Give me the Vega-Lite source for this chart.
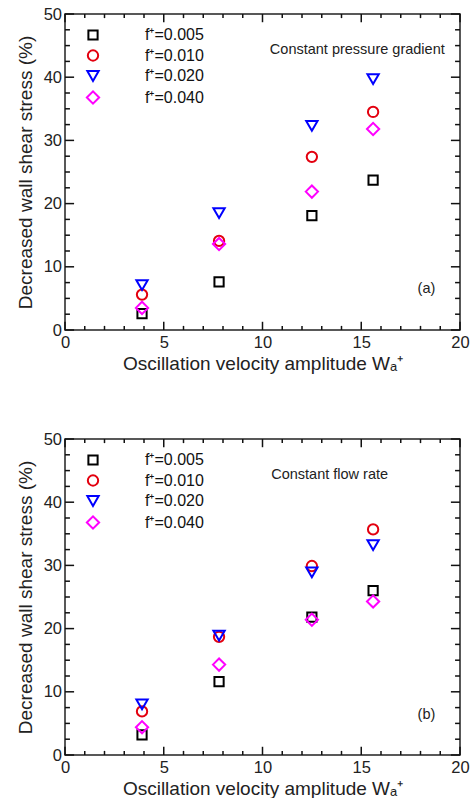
{
  "$schema": "https://vega.github.io/schema/vega-lite/v6.json",
  "padding": {"left": 15, "top": 5, "right": 6, "bottom": 0},
  "datasets": {
    "pts": [
      {"panel": "a", "W": 3.9, "f": "f⁺=0.005", "v": 2.6},
      {"panel": "a", "W": 7.8, "f": "f⁺=0.005", "v": 7.6},
      {"panel": "a", "W": 12.5, "f": "f⁺=0.005", "v": 18.1},
      {"panel": "a", "W": 15.6, "f": "f⁺=0.005", "v": 23.7},
      {"panel": "a", "W": 3.9, "f": "f⁺=0.010", "v": 5.6},
      {"panel": "a", "W": 7.8, "f": "f⁺=0.010", "v": 14.1},
      {"panel": "a", "W": 12.5, "f": "f⁺=0.010", "v": 27.4},
      {"panel": "a", "W": 15.6, "f": "f⁺=0.010", "v": 34.5},
      {"panel": "a", "W": 3.9, "f": "f⁺=0.020", "v": 7.1},
      {"panel": "a", "W": 7.8, "f": "f⁺=0.020", "v": 18.5},
      {"panel": "a", "W": 12.5, "f": "f⁺=0.020", "v": 32.3},
      {"panel": "a", "W": 15.6, "f": "f⁺=0.020", "v": 39.7},
      {"panel": "a", "W": 3.9, "f": "f⁺=0.040", "v": 3.5},
      {"panel": "a", "W": 7.8, "f": "f⁺=0.040", "v": 13.6},
      {"panel": "a", "W": 12.5, "f": "f⁺=0.040", "v": 21.9},
      {"panel": "a", "W": 15.6, "f": "f⁺=0.040", "v": 31.8},
      {"panel": "b", "W": 3.9, "f": "f⁺=0.005", "v": 3.2},
      {"panel": "b", "W": 7.8, "f": "f⁺=0.005", "v": 11.6},
      {"panel": "b", "W": 12.5, "f": "f⁺=0.005", "v": 21.8},
      {"panel": "b", "W": 15.6, "f": "f⁺=0.005", "v": 26.0},
      {"panel": "b", "W": 3.9, "f": "f⁺=0.010", "v": 6.9},
      {"panel": "b", "W": 7.8, "f": "f⁺=0.010", "v": 18.7},
      {"panel": "b", "W": 12.5, "f": "f⁺=0.010", "v": 29.9},
      {"panel": "b", "W": 15.6, "f": "f⁺=0.010", "v": 35.7},
      {"panel": "b", "W": 3.9, "f": "f⁺=0.020", "v": 8.0},
      {"panel": "b", "W": 7.8, "f": "f⁺=0.020", "v": 18.9},
      {"panel": "b", "W": 12.5, "f": "f⁺=0.020", "v": 28.9},
      {"panel": "b", "W": 15.6, "f": "f⁺=0.020", "v": 33.2},
      {"panel": "b", "W": 3.9, "f": "f⁺=0.040", "v": 4.4},
      {"panel": "b", "W": 7.8, "f": "f⁺=0.040", "v": 14.3},
      {"panel": "b", "W": 12.5, "f": "f⁺=0.040", "v": 21.4},
      {"panel": "b", "W": 15.6, "f": "f⁺=0.040", "v": 24.3}
    ],
    "notes": [
      {"panel": "a", "W": 14.8, "v": 44.3, "label": "Constant pressure gradient"},
      {"panel": "a", "W": 18.3, "v": 6.5, "label": "(a)"},
      {"panel": "b", "W": 13.4, "v": 44.3, "label": "Constant flow rate"},
      {"panel": "b", "W": 18.3, "v": 6.4, "label": "(b)"}
    ],
    "xt": [
      {"t": 0, "m": 1}, {"t": 1, "m": 0}, {"t": 2, "m": 0}, {"t": 3, "m": 0}, {"t": 4, "m": 0},
      {"t": 5, "m": 1}, {"t": 6, "m": 0}, {"t": 7, "m": 0}, {"t": 8, "m": 0}, {"t": 9, "m": 0},
      {"t": 10, "m": 1}, {"t": 11, "m": 0}, {"t": 12, "m": 0}, {"t": 13, "m": 0}, {"t": 14, "m": 0},
      {"t": 15, "m": 1}, {"t": 16, "m": 0}, {"t": 17, "m": 0}, {"t": 18, "m": 0}, {"t": 19, "m": 0},
      {"t": 20, "m": 1}
    ],
    "yt": [
      {"t": 0, "m": 1}, {"t": 2.5, "m": 0}, {"t": 5, "m": 0}, {"t": 7.5, "m": 0},
      {"t": 10, "m": 1}, {"t": 12.5, "m": 0}, {"t": 15, "m": 0}, {"t": 17.5, "m": 0},
      {"t": 20, "m": 1}, {"t": 22.5, "m": 0}, {"t": 25, "m": 0}, {"t": 27.5, "m": 0},
      {"t": 30, "m": 1}, {"t": 32.5, "m": 0}, {"t": 35, "m": 0}, {"t": 37.5, "m": 0},
      {"t": 40, "m": 1}, {"t": 42.5, "m": 0}, {"t": 45, "m": 0}, {"t": 47.5, "m": 0},
      {"t": 50, "m": 1}
    ]
  },
  "vconcat": [
    {
      "width": 395,
      "height": 316,
      "layer": [
        {"data": {"name": "xt"}, "transform": [{"filter": "datum.m === 1"}], "mark": {"type": "bar", "color": "#111", "size": 1.5},
          "encoding": {"x": {"field": "t", "type": "quantitative", "scale": {"domain": [0, 20], "nice": false, "zero": false, "padding": 0}}, "y": {"datum": 0, "type": "quantitative", "scale": {"domain": [0, 50], "nice": false, "padding": 0}}, "y2": {"datum": 1.3}}},
        {"data": {"name": "xt"}, "transform": [{"filter": "datum.m === 0"}], "mark": {"type": "bar", "color": "#111", "size": 1.5},
          "encoding": {"x": {"field": "t", "type": "quantitative"}, "y": {"datum": 0, "type": "quantitative"}, "y2": {"datum": 0.65}}},
        {"data": {"name": "xt"}, "transform": [{"filter": "datum.m === 1"}], "mark": {"type": "bar", "color": "#111", "size": 1.5},
          "encoding": {"x": {"field": "t", "type": "quantitative"}, "y": {"datum": 48.7, "type": "quantitative"}, "y2": {"datum": 50}}},
        {"data": {"name": "xt"}, "transform": [{"filter": "datum.m === 0"}], "mark": {"type": "bar", "color": "#111", "size": 1.5},
          "encoding": {"x": {"field": "t", "type": "quantitative"}, "y": {"datum": 49.35, "type": "quantitative"}, "y2": {"datum": 50}}},
        {"data": {"name": "yt"}, "transform": [{"filter": "datum.m === 1"}], "mark": {"type": "bar", "color": "#111", "size": 1.5},
          "encoding": {"y": {"field": "t", "type": "quantitative"}, "x": {"datum": 0, "type": "quantitative"}, "x2": {"datum": 0.46}}},
        {"data": {"name": "yt"}, "transform": [{"filter": "datum.m === 0"}], "mark": {"type": "bar", "color": "#111", "size": 1.5},
          "encoding": {"y": {"field": "t", "type": "quantitative"}, "x": {"datum": 0, "type": "quantitative"}, "x2": {"datum": 0.25}}},
        {"data": {"name": "yt"}, "transform": [{"filter": "datum.m === 1"}], "mark": {"type": "bar", "color": "#111", "size": 1.5},
          "encoding": {"y": {"field": "t", "type": "quantitative"}, "x": {"datum": 19.54, "type": "quantitative"}, "x2": {"datum": 20}}},
        {"data": {"name": "yt"}, "transform": [{"filter": "datum.m === 0"}], "mark": {"type": "bar", "color": "#111", "size": 1.5},
          "encoding": {"y": {"field": "t", "type": "quantitative"}, "x": {"datum": 19.75, "type": "quantitative"}, "x2": {"datum": 20}}},
        {
          "data": {"name": "notes"},
          "transform": [{"filter": "datum.panel === 'a'"}],
          "mark": {"type": "text", "fontSize": 14.5, "font": "Liberation Sans", "color": "#222", "align": "center", "baseline": "middle"},
          "encoding": {
            "x": {"field": "W", "type": "quantitative"},
            "y": {"field": "v", "type": "quantitative"},
            "text": {"field": "label"}
          }
        },
        {
          "data": {"name": "pts"},
          "transform": [{"filter": "datum.panel === 'a'"}],
          "mark": {"type": "point", "filled": false, "strokeWidth": 2, "opacity": 1},
          "encoding": {
            "x": {"field": "W", "type": "quantitative", "scale": {"domain": [0, 20], "nice": false, "zero": false, "padding": 0},
              "axis": {"title": "Oscillation velocity amplitude Wₐ⁺", "values": [0, 5, 10, 15, 20], "labelPadding": 4.5}},
            "y": {"field": "v", "type": "quantitative", "scale": {"domain": [0, 50], "nice": false, "padding": 0},
              "axis": {"title": "Decreased wall shear stress  (%)", "values": [0, 10, 20, 30, 40, 50], "labelPadding": 3.5}},
            "shape": {"field": "f", "type": "nominal", "scale": {"domain": ["f⁺=0.005", "f⁺=0.010", "f⁺=0.020", "f⁺=0.040"], "range": ["square", "circle", "triangle-down", "diamond"]},
              "legend": {"title": null, "orient": "none", "legendX": 20, "legendY": 13}},
            "color": {"field": "f", "type": "nominal", "scale": {"domain": ["f⁺=0.005", "f⁺=0.010", "f⁺=0.020", "f⁺=0.040"], "range": ["#000000", "#e3000f", "#0000ff", "#ff00ff"]},
              "legend": {"title": null, "orient": "none", "legendX": 20, "legendY": 13}},
            "size": {"field": "f", "type": "nominal", "scale": {"domain": ["f⁺=0.005", "f⁺=0.010", "f⁺=0.020", "f⁺=0.040"], "range": [85, 150, 100, 130]},
              "legend": {"title": null, "orient": "none", "legendX": 20, "legendY": 13}}
          }
        }
      ]
    },
    {
      "width": 395,
      "height": 316,
      "layer": [
        {"data": {"name": "xt"}, "transform": [{"filter": "datum.m === 1"}], "mark": {"type": "bar", "color": "#111", "size": 1.5},
          "encoding": {"x": {"field": "t", "type": "quantitative", "scale": {"domain": [0, 20], "nice": false, "zero": false, "padding": 0}}, "y": {"datum": 0, "type": "quantitative", "scale": {"domain": [0, 50], "nice": false, "padding": 0}}, "y2": {"datum": 1.3}}},
        {"data": {"name": "xt"}, "transform": [{"filter": "datum.m === 0"}], "mark": {"type": "bar", "color": "#111", "size": 1.5},
          "encoding": {"x": {"field": "t", "type": "quantitative"}, "y": {"datum": 0, "type": "quantitative"}, "y2": {"datum": 0.65}}},
        {"data": {"name": "xt"}, "transform": [{"filter": "datum.m === 1"}], "mark": {"type": "bar", "color": "#111", "size": 1.5},
          "encoding": {"x": {"field": "t", "type": "quantitative"}, "y": {"datum": 48.7, "type": "quantitative"}, "y2": {"datum": 50}}},
        {"data": {"name": "xt"}, "transform": [{"filter": "datum.m === 0"}], "mark": {"type": "bar", "color": "#111", "size": 1.5},
          "encoding": {"x": {"field": "t", "type": "quantitative"}, "y": {"datum": 49.35, "type": "quantitative"}, "y2": {"datum": 50}}},
        {"data": {"name": "yt"}, "transform": [{"filter": "datum.m === 1"}], "mark": {"type": "bar", "color": "#111", "size": 1.5},
          "encoding": {"y": {"field": "t", "type": "quantitative"}, "x": {"datum": 0, "type": "quantitative"}, "x2": {"datum": 0.46}}},
        {"data": {"name": "yt"}, "transform": [{"filter": "datum.m === 0"}], "mark": {"type": "bar", "color": "#111", "size": 1.5},
          "encoding": {"y": {"field": "t", "type": "quantitative"}, "x": {"datum": 0, "type": "quantitative"}, "x2": {"datum": 0.25}}},
        {"data": {"name": "yt"}, "transform": [{"filter": "datum.m === 1"}], "mark": {"type": "bar", "color": "#111", "size": 1.5},
          "encoding": {"y": {"field": "t", "type": "quantitative"}, "x": {"datum": 19.54, "type": "quantitative"}, "x2": {"datum": 20}}},
        {"data": {"name": "yt"}, "transform": [{"filter": "datum.m === 0"}], "mark": {"type": "bar", "color": "#111", "size": 1.5},
          "encoding": {"y": {"field": "t", "type": "quantitative"}, "x": {"datum": 19.75, "type": "quantitative"}, "x2": {"datum": 20}}},
        {
          "data": {"name": "notes"},
          "transform": [{"filter": "datum.panel === 'b'"}],
          "mark": {"type": "text", "fontSize": 14.5, "font": "Liberation Sans", "color": "#222", "align": "center", "baseline": "middle"},
          "encoding": {
            "x": {"field": "W", "type": "quantitative"},
            "y": {"field": "v", "type": "quantitative"},
            "text": {"field": "label"}
          }
        },
        {
          "data": {"name": "pts"},
          "transform": [{"filter": "datum.panel === 'b'"}],
          "mark": {"type": "point", "filled": false, "strokeWidth": 2, "opacity": 1},
          "encoding": {
            "x": {"field": "W", "type": "quantitative", "scale": {"domain": [0, 20], "nice": false, "zero": false, "padding": 0},
              "axis": {"title": "Oscillation velocity amplitude Wₐ⁺", "values": [0, 5, 10, 15, 20], "labelPadding": 4.5}},
            "y": {"field": "v", "type": "quantitative", "scale": {"domain": [0, 50], "nice": false, "padding": 0},
              "axis": {"title": "Decreased wall shear stress  (%)", "values": [0, 10, 20, 30, 40, 50], "labelPadding": 3.5}},
            "shape": {"field": "f", "type": "nominal", "scale": {"domain": ["f⁺=0.005", "f⁺=0.010", "f⁺=0.020", "f⁺=0.040"], "range": ["square", "circle", "triangle-down", "diamond"]},
              "legend": {"title": null, "orient": "none", "legendX": 20, "legendY": 13}},
            "color": {"field": "f", "type": "nominal", "scale": {"domain": ["f⁺=0.005", "f⁺=0.010", "f⁺=0.020", "f⁺=0.040"], "range": ["#000000", "#e3000f", "#0000ff", "#ff00ff"]},
              "legend": {"title": null, "orient": "none", "legendX": 20, "legendY": 13}},
            "size": {"field": "f", "type": "nominal", "scale": {"domain": ["f⁺=0.005", "f⁺=0.010", "f⁺=0.020", "f⁺=0.040"], "range": [85, 150, 100, 130]},
              "legend": {"title": null, "orient": "none", "legendX": 20, "legendY": 13}}
          }
        }
      ]
    }
  ],
  "spacing": 56,
  "resolve": {"scale": {"color": "independent", "shape": "independent", "size": "independent"}, "legend": {"color": "independent", "shape": "independent", "size": "independent"}},
  "config": {
    "font": "Liberation Sans",
    "view": {"stroke": "#222", "strokeWidth": 1.5},
    "scale": {"continuousPadding": 0},
    "axis": {
      "labelFont": "Liberation Sans", "labelFontSize": 16.5, "labelColor": "#222",
      "labelOverlap": false, "labelFlush": false, "domain": false, "ticks": false,
      "titleFont": "Liberation Sans", "titleFontSize": 19, "titleFontWeight": "normal", "titleColor": "#222", "titlePadding": 3,
      "grid": false
    },
    "axisY": {"titlePadding": 8},
    "legend": {
      "labelFont": "Liberation Sans", "labelFontSize": 16, "labelColor": "#111", "padding": 0,
      "rowPadding": 1.5, "labelOffset": 44, "symbolStrokeWidth": 2
    }
  }
}
